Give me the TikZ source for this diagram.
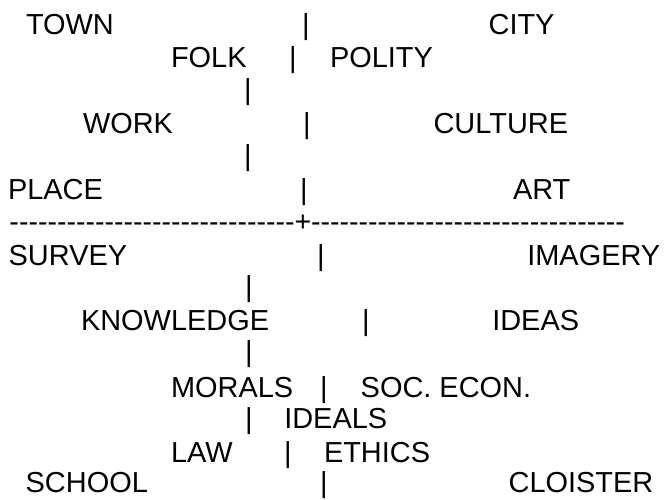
\documentclass[tikz,border=0pt]{standalone}
\usepackage{fontspec}
\setmainfont{Liberation Sans}[Ligatures=TeXOff]

\begin{document}
\begin{tikzpicture}[x=0.75pt, y=-0.75pt,
  every node/.style={inner sep=0pt, outer sep=0pt, font=\fontsize{21.7}{25}\selectfont},
  word/.style={anchor=base west},
  bar/.style={anchor=base}]
  \useasboundingbox (0,0) rectangle (666,499);
  % upper half
  \node[word] (town) at (26,35) {TOWN};
  \node[bar] (b1) at (306,35) {|};
  \node[word] (city) at (488.6,35) {CITY};
  \node[word] (folk) at (171,68) {FOLK};
  \node[bar] (b2) at (293,68) {|};
  \node[word] (polity) at (330,68) {POLITY};
  \node[bar] (b3) at (248,100) {|};
  \node[word] (work) at (83,133) {WORK};
  \node[bar] (b4) at (307,133) {|};
  \node[word] (culture) at (433.6,133) {CULTURE};
  \node[bar] (b5) at (248,165) {|};
  \node[word] (place) at (8,199) {PLACE};
  \node[bar] (b6) at (304,199) {|};
  \node[word] (art) at (513,199) {ART};
  % the cross line
  \node[word, font=\fontsize{21.4}{25}\selectfont] (cross) at (9.5,231) {------------------------------+---------------------------------};
  % lower half
  \node[word] (survey) at (8.7,265) {SURVEY};
  \node[bar] (b7) at (321,265) {|};
  \node[word] (imagery) at (527.3,265) {IMAGERY};
  \node[bar] (b8) at (249,296) {|};
  \node[word] (knowledge) at (81,330) {KNOWLEDGE};
  \node[bar] (b9) at (366,330) {|};
  \node[word] (ideas) at (492.3,330) {IDEAS};
  \node[bar] (b10) at (249,361) {|};
  \node[word] (morals) at (171,397) {MORALS};
  \node[bar] (b11) at (324,397) {|};
  \node[word] (soc) at (360.7,397) {SOC. ECON.};
  \node[bar] (b12) at (249,428) {|};
  \node[word] (ideals) at (284.3,428) {IDEALS};
  \node[word] (law) at (171,462) {LAW};
  \node[bar] (b13) at (288,462) {|};
  \node[word] (ethics) at (324,462) {ETHICS};
  \node[word] (school) at (25.7,492) {SCHOOL};
  \node[bar] (b14) at (324,492) {|};
  \node[word] (cloister) at (508.6,492) {CLOISTER};
\end{tikzpicture}
\end{document}
